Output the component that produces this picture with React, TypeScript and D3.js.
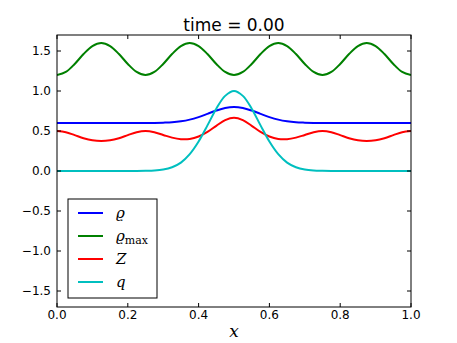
import React, { useEffect } from 'react'
import { scaleLinear, line, curveCatmullRom } from 'd3'

// sample positions, step 0.025
const xs = Array.from({ length: 41 }, (_, i) => i * 0.025)

const rho = [
  0.6, 0.6, 0.6, 0.6, 0.6, 0.6, 0.6, 0.6, 0.6, 0.6,
  0.6, 0.601, 0.604, 0.609, 0.621, 0.642, 0.674, 0.714, 0.756, 0.788,
  0.8,
  0.788, 0.756, 0.714, 0.674, 0.642, 0.621, 0.609, 0.604, 0.601, 0.6,
  0.6, 0.6, 0.6, 0.6, 0.6, 0.6, 0.6, 0.6, 0.6, 0.6,
]

const rhoMax = [
  1.2, 1.238, 1.338, 1.462, 1.562, 1.6, 1.562, 1.462, 1.338, 1.238,
  1.2, 1.238, 1.338, 1.462, 1.562, 1.6, 1.562, 1.462, 1.338, 1.238,
  1.2, 1.238, 1.338, 1.462, 1.562, 1.6, 1.562, 1.462, 1.338, 1.238,
  1.2, 1.238, 1.338, 1.462, 1.562, 1.6, 1.562, 1.462, 1.338, 1.238,
  1.2,
]

const zVals = [
  0.5, 0.485, 0.448, 0.41, 0.384, 0.375, 0.384, 0.41, 0.448, 0.485,
  0.5, 0.485, 0.451, 0.417, 0.398, 0.401, 0.431, 0.488, 0.565, 0.637,
  0.667,
  0.637, 0.565, 0.488, 0.431, 0.401, 0.398, 0.417, 0.451, 0.485, 0.5,
  0.485, 0.448, 0.41, 0.384, 0.375, 0.384, 0.41, 0.448, 0.485, 0.5,
]

const qVals = [
  0, 0, 0, 0, 0, 0, 0, 0, 0, 0,
  0.002, 0.006, 0.018, 0.047, 0.105, 0.21, 0.368, 0.57, 0.779, 0.939,
  1.0,
  0.939, 0.779, 0.57, 0.368, 0.21, 0.105, 0.047, 0.018, 0.006, 0.002,
  0, 0, 0, 0, 0, 0, 0, 0, 0, 0,
]

const xTicks = [0, 0.2, 0.4, 0.6, 0.8, 1.0]
const yTicks = [-1.5, -1.0, -0.5, 0.0, 0.5, 1.0, 1.5]

const series = [
  { key: 'rho', values: rho, color: '#0000ff' },
  { key: 'rhomax', values: rhoMax, color: '#008000' },
  { key: 'z', values: zVals, color: '#ff0000' },
  { key: 'q', values: qVals, color: '#00bfbf' },
]

const W = 457
const H = 343
const left = 57, right = 411, top = 35, bottom = 307

const fmt = (v: number) => v.toFixed(1).replace('-', '\u2212')

export default function App() {
  useEffect(() => {
    document.body.style.margin = '0'
  }, [])

  const x = scaleLinear().domain([0, 1]).range([left, right])
  const y = scaleLinear().domain([-1.7, 1.7]).range([bottom, top])

  const path = line<number>()
    .x((_, i) => x(xs[i]))
    .y(v => y(v))
    .curve(curveCatmullRom)

  const tickLen = 4
  const sans = 'DejaVu Sans, sans-serif'
  const serif = 'DejaVu Serif, serif'

  // legend
  const lgX = 68, lgY = 199, lgW = 89, lgH = 99
  const rows = [213, 236, 259, 282]

  return (
    <svg width={W} height={H} style={{ display: 'block', background: '#fff' }}>
      <rect x={0} y={0} width={W} height={H} fill="#fff" />
      <defs>
        <clipPath id="plotClip">
          <rect x={left} y={top} width={right - left} height={bottom - top} />
        </clipPath>
      </defs>

      <g clipPath="url(#plotClip)">
        {series.map(s => (
          <path key={s.key} d={path(s.values) || ''} fill="none" stroke={s.color} strokeWidth={2} />
        ))}
      </g>

      {/* frame */}
      <rect x={left} y={top} width={right - left} height={bottom - top} fill="none" stroke="#000" strokeWidth={1} />

      {/* x ticks */}
      {xTicks.map(t => (
        <g key={'x' + t}>
          <line x1={x(t)} x2={x(t)} y1={bottom} y2={bottom - tickLen} stroke="#000" />
          <line x1={x(t)} x2={x(t)} y1={top} y2={top + tickLen} stroke="#000" />
          <text x={x(t)} y={319} textAnchor="middle" fontFamily={sans} fontSize={12} fill="#000">
            {t.toFixed(1)}
          </text>
        </g>
      ))}

      {/* y ticks */}
      {yTicks.map(t => (
        <g key={'y' + t}>
          <line x1={left} x2={left + tickLen} y1={y(t)} y2={y(t)} stroke="#000" />
          <line x1={right} x2={right - tickLen} y1={y(t)} y2={y(t)} stroke="#000" />
          <text x={51} y={y(t)} dy="0.35em" textAnchor="end" fontFamily={sans} fontSize={12} fill="#000">
            {fmt(t)}
          </text>
        </g>
      ))}

      {/* title */}
      <text x={(left + right) / 2} y={31} textAnchor="middle" fontFamily={sans} fontSize={17} fill="#000">
        time = 0.00
      </text>

      {/* x label */}
      <text x={(left + right) / 2} y={337} textAnchor="middle" fontFamily={serif} fontStyle="italic" fontSize={17} fill="#000">
        x
      </text>

      {/* legend */}
      <rect x={lgX} y={lgY} width={lgW} height={lgH} fill="#fff" stroke="#000" strokeWidth={1} />
      {series.map((s, i) => (
        <line key={'lg' + s.key} x1={78} x2={103} y1={rows[i]} y2={rows[i]} stroke={s.color} strokeWidth={2} />
      ))}
      <text x={116} y={rows[0]} dy="0.3em" fontFamily={serif} fontStyle="italic" fontSize={15}>ϱ</text>
      <text x={116} y={rows[1]} dy="0.3em" fontFamily={serif} fontSize={15}>
        <tspan fontStyle="italic">ϱ</tspan>
        <tspan fontSize={11} dy="3">max</tspan>
      </text>
      <text x={116} y={rows[2]} dy="0.35em" fontFamily={serif} fontStyle="italic" fontSize={15}>Z</text>
      <text x={116} y={rows[3]} dy="0.3em" fontFamily={serif} fontStyle="italic" fontSize={15}>q</text>
    </svg>
  )
}
